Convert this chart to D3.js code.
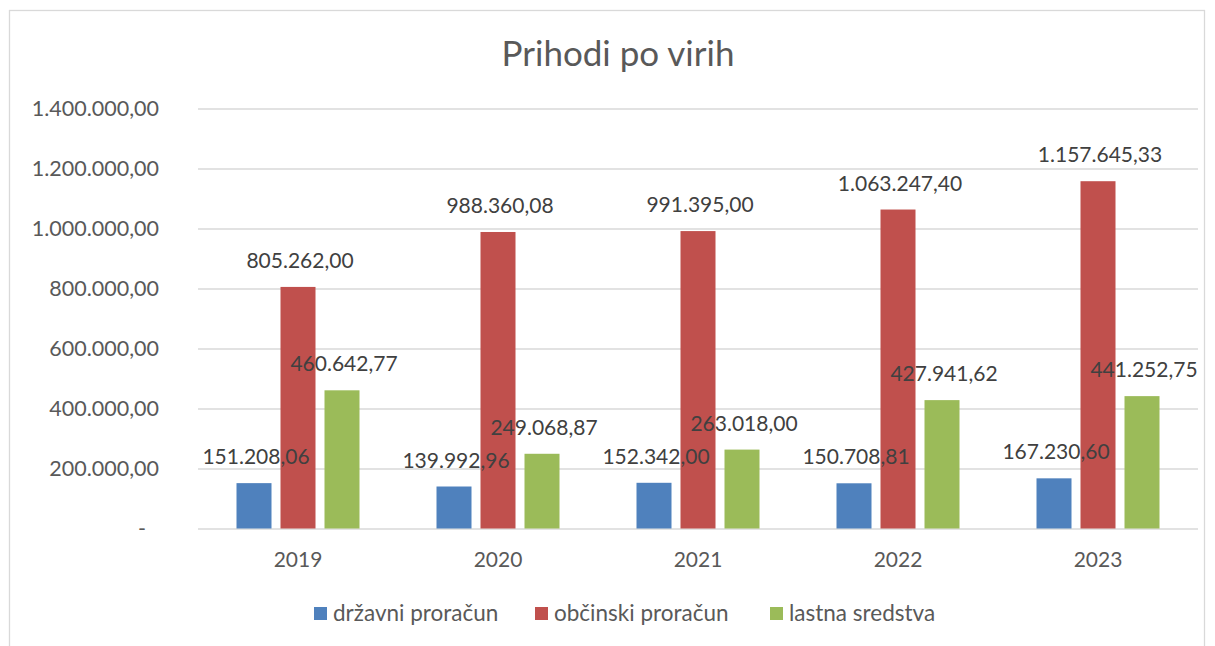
<!DOCTYPE html>
<html>
    <head>
        <meta charset="utf-8">
        <script type="text/javascript" src="https://d3js.org/d3.v7.min.js" charset="utf-8"></script>
        <style>
            body { margin: 0; background: #fff; }
            text { font-family: Lato, "Open Sans", sans-serif; }
        </style>
    </head>
    <body>
        <script>
            const WIDTH = 1215;
            const HEIGHT = 646;

            // data
            const YEARS = ['2019', '2020', '2021', '2022', '2023'];
            const SERIES = ['državni proračun', 'občinski proračun', 'lastna sredstva'];
            const DRZAVNI = [151208.06, 139992.96, 152342.00, 150708.81, 167230.60];
            const OBCINSKI = [805262.00, 988360.08, 991395.00, 1063247.40, 1157645.33];
            const LASTNA = [460642.77, 249068.87, 263018.00, 427941.62, 441252.75];
            const Y_TICKS = [0, 200000, 400000, 600000, 800000, 1000000, 1200000, 1400000];
            const TITLE = 'Prihodi po virih';

            const COLORS = ['#4f81bd', '#c0504d', '#9bbb59'];
            const GRID_COLOR = '#d9d9d9';
            const AXIS_TEXT = '#595959';
            const LABEL_TEXT = '#404040';

            const PLOT_LEFT = 198;
            const PLOT_RIGHT = 1198;
            const PLOT_TOP = 108.5;
            const PLOT_BOTTOM = 528.5;

            const values = [DRZAVNI, OBCINSKI, LASTNA];
            let rows = [];
            YEARS.forEach(function(y, i){
                SERIES.forEach(function(s, j){
                    rows.push({year: y, series: s, idx: j, value: values[j][i]});
                });
            });

            const locale = d3.formatLocale({decimal: ',', thousands: '.', grouping: [3], currency: ['', '']});
            const fmt = locale.format(',.2f');

            let svg = d3.select('body')
            .append('svg')
            .attr('width', WIDTH)
            .attr('height', HEIGHT);

            // chart border
            svg.append('rect')
            .attr('x', 9.5)
            .attr('y', 10.5)
            .attr('width', 1195)
            .attr('height', 660)
            .attr('fill', 'none')
            .attr('stroke', GRID_COLOR)
            .attr('stroke-width', 1.3);

            let xScale = d3.scaleBand()
            .domain(YEARS)
            .range([PLOT_LEFT, PLOT_RIGHT]);

            let inner = d3.scaleBand()
            .domain(SERIES)
            .range([38.5, 161.5])
            .paddingInner(9 / 44);

            let yScale = d3.scaleLinear()
            .domain([0, 1400000])
            .range([PLOT_BOTTOM, PLOT_TOP]);

            // gridlines + y labels
            let yAxis = svg.append('g')
            .attr('transform', 'translate(' + PLOT_LEFT + ',0)')
            .call(d3.axisLeft(yScale)
                .tickValues(Y_TICKS)
                .tickSize(-(PLOT_RIGHT - PLOT_LEFT))
                .tickPadding(39)
                .tickFormat(function(d){ return d === 0 ? '-' : fmt(d); }));
            yAxis.select('.domain').remove();
            yAxis.selectAll('line').attr('stroke', GRID_COLOR).attr('stroke-width', 1.3);
            yAxis.selectAll('text')
            .attr('fill', AXIS_TEXT)
            .style('font-size', '21.5px')
            .attr('dx', function(d){ return d === 0 ? -13 : 0; });

            let xAxis = svg.append('g')
            .attr('transform', 'translate(0,' + PLOT_BOTTOM + ')')
            .call(d3.axisBottom(xScale).tickSize(0).tickPadding(24));
            xAxis.select('.domain').remove();
            xAxis.selectAll('text')
            .attr('fill', AXIS_TEXT)
            .style('font-size', '21px');

            svg.selectAll('rect.bar')
            .data(rows)
            .enter()
            .append('rect')
            .attr('class', 'bar')
            .attr('x', function(d){ return xScale(d.year) + inner(d.series); })
            .attr('width', inner.bandwidth())
            .attr('y', function(d){ return yScale(d.value); })
            .attr('height', function(d){ return yScale(0) - yScale(d.value); })
            .attr('fill', function(d){ return COLORS[d.idx]; });

            svg.selectAll('text.lbl')
            .data(rows)
            .enter()
            .append('text')
            .attr('class', 'lbl')
            .attr('x', function(d){ return xScale(d.year) + inner(d.series) + inner.bandwidth() / 2 + 2; })
            .attr('y', function(d){ return yScale(d.value) - 19; })
            .attr('text-anchor', 'middle')
            .attr('fill', LABEL_TEXT)
            .style('font-size', '21px')
            .text(function(d){ return fmt(d.value); });

            svg.append('text')
            .attr('x', 618)
            .attr('y', 66)
            .attr('text-anchor', 'middle')
            .attr('fill', AXIS_TEXT)
            .style('font-size', '35px')
            .text(TITLE);

            // legend
            const LEGEND_X = [314, 535, 770];
            let legend = svg.selectAll('g.legend')
            .data(SERIES)
            .enter()
            .append('g')
            .attr('class', 'legend')
            .attr('transform', function(d, i){ return 'translate(' + LEGEND_X[i] + ',607)'; });
            legend.append('rect')
            .attr('width', 13)
            .attr('height', 13)
            .attr('fill', function(d, i){ return COLORS[i]; });
            legend.append('text')
            .attr('x', 19)
            .attr('y', 14)
            .attr('fill', AXIS_TEXT)
            .style('font-size', '22.5px')
            .text(function(d){ return d; });
        </script>
    </body>
</html>
